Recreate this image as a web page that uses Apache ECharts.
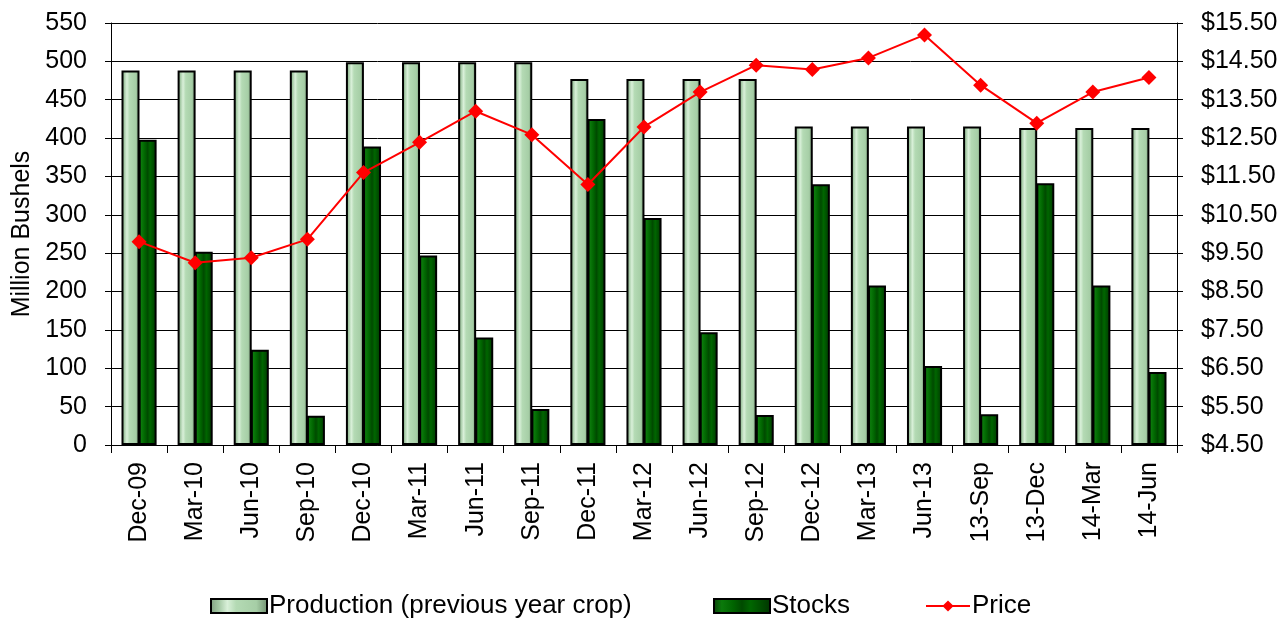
<!DOCTYPE html>
<html>
<head>
<meta charset="utf-8">
<script src="https://cdn.jsdelivr.net/npm/echarts@6/dist/echarts.min.js"></script>
<style>
html, body { margin: 0; padding: 0; background: #fff; }
#main { width: 1283px; height: 618px; }
</style>
</head>
<body>
<div id="main"></div>
<script>
// 季度数据
var categories = ['Dec-09', 'Mar-10', 'Jun-10', 'Sep-10', 'Dec-10', 'Mar-11', 'Jun-11', 'Sep-11',
    'Dec-11', 'Mar-12', 'Jun-12', 'Sep-12', 'Dec-12', 'Mar-13', 'Jun-13', '13-Sep', '13-Dec', '14-Mar', '14-Jun'];

var production = [488, 488, 488, 488, 499, 499, 499, 499, 477, 477, 477, 477, 415, 415, 415, 415, 413, 413, 413];
var stocks = [398, 252, 124, 38, 389, 247, 140, 47, 425, 296, 147, 39, 340, 208, 103, 40, 341, 208, 95];
var price = [9.80, 9.25, 9.38, 9.86, 11.60, 12.39, 13.20, 12.59, 11.29, 12.79, 13.70, 14.40, 14.29, 14.59, 15.19, 13.88, 12.89, 13.70, 14.08];

var myChart = echarts.init(document.getElementById('main'));

var font = 'Liberation Sans, Arial, sans-serif';

var prodColor = new echarts.graphic.LinearGradient(0, 0, 1, 0, [
    { offset: 0, color: '#7f9f7f' },
    { offset: 0.15, color: '#a3c8a3' },
    { offset: 0.3, color: '#d9f0d9' },
    { offset: 0.45, color: '#b4dab4' },
    { offset: 0.8, color: '#a6cea6' },
    { offset: 1, color: '#6f8f6f' }
]);

var stockColor = new echarts.graphic.LinearGradient(0, 0, 1, 0, [
    { offset: 0, color: '#0b3f0b' },
    { offset: 0.15, color: '#0b7a0b' },
    { offset: 0.35, color: '#006400' },
    { offset: 0.5, color: '#004a00' },
    { offset: 0.65, color: '#006600' },
    { offset: 1, color: '#003500' }
]);

var legendText = { fontSize: 26, color: '#000', fontFamily: font, padding: [0, 0, 0, -3] };

var option = {
    backgroundColor: '#ffffff',
    animation: false,
    textStyle: { fontFamily: font },
    grid: {
        left: 111,
        right: 106,
        top: 23,
        bottom: 173,
        containLabel: false,
        outerBoundsMode: 'none'
    },
    legend: [{
        left: 205,
        top: 588,
        itemWidth: 56,
        itemHeight: 14,
        icon: 'rect',
        data: ['Production (previous year crop)'],
        textStyle: legendText
    }, {
        left: 708,
        top: 588,
        itemWidth: 56,
        itemHeight: 14,
        icon: 'rect',
        data: ['Stocks'],
        textStyle: legendText
    }, {
        left: 920,
        top: 588,
        itemWidth: 44,
        itemHeight: 14,
        data: ['Price'],
        textStyle: legendText
    }],
    xAxis: {
        type: 'category',
        data: categories,
        boundaryGap: true,
        axisLine: { lineStyle: { color: '#000', width: 1 } },
        axisTick: { show: true, length: 8, alignWithLabel: false, lineStyle: { color: '#000' } },
        axisLabel: {
            rotate: 90,
            fontSize: 25,
            color: '#000',
            margin: 17,
            interval: 0
        },
        splitLine: { show: false }
    },
    yAxis: [{
        type: 'value',
        name: 'Million Bushels',
        nameLocation: 'middle',
        nameGap: 76,
        nameTextStyle: { fontSize: 25, color: '#000' },
        min: 0,
        max: 550,
        interval: 50,
        axisLine: { show: true, lineStyle: { color: '#000' } },
        axisTick: { show: true, length: 6, lineStyle: { color: '#000' } },
        axisLabel: { fontSize: 25, color: '#000', margin: 24 },
        splitLine: { show: true, lineStyle: { color: '#000', width: 1 } }
    }, {
        type: 'value',
        min: 4.5,
        max: 15.5,
        interval: 1,
        axisLine: { show: true, lineStyle: { color: '#000' } },
        axisTick: { show: true, length: 6, lineStyle: { color: '#000' } },
        axisLabel: {
            fontSize: 25,
            color: '#000',
            margin: 24,
            formatter: function (v) { return '$' + v.toFixed(2); }
        },
        splitLine: { show: false }
    }],
    series: [{
        name: 'Production (previous year crop)',
        type: 'bar',
        data: production,
        barWidth: 18,
        barGap: '-5%',
        itemStyle: {
            color: prodColor,
            borderColor: '#000',
            borderWidth: 2
        }
    }, {
        name: 'Stocks',
        type: 'bar',
        data: stocks,
        barWidth: 18,
        itemStyle: {
            color: stockColor,
            borderColor: '#000',
            borderWidth: 2
        }
    }, {
        name: 'Price',
        type: 'line',
        yAxisIndex: 1,
        data: price,
        symbol: 'diamond',
        symbolSize: 15,
        lineStyle: { color: '#ff0000', width: 2 },
        itemStyle: { color: '#ff0000' },
        z: 10
    }]
};

myChart.setOption(option);
</script>
</body>
</html>
